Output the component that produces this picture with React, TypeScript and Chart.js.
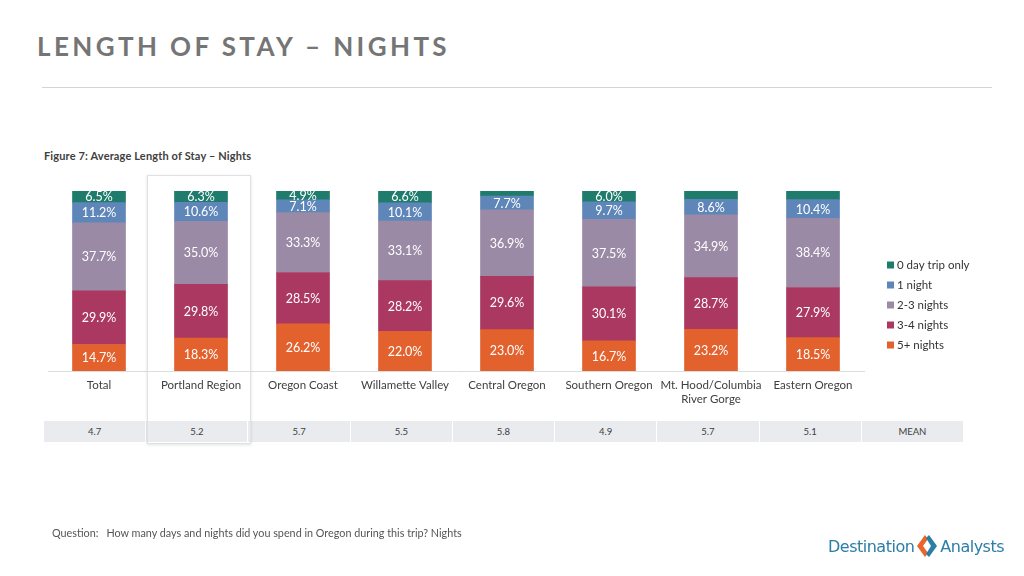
import React, { useEffect, useRef } from "react";
import { Chart, registerables } from "chart.js";

Chart.register(...registerables);

const categories: (string | string[])[] = [
  "Total",
  "Portland Region",
  "Oregon Coast",
  "Willamette Valley",
  "Central Oregon",
  "Southern Oregon",
  ["Mt. Hood/Columbia", "River Gorge"],
  "Eastern Oregon",
];

const fivePlus = [14.7, 18.3, 26.2, 22.0, 23.0, 16.7, 23.2, 18.5];
const threeFour = [29.9, 29.8, 28.5, 28.2, 29.6, 30.1, 28.7, 27.9];
const twoThree = [37.7, 35.0, 33.3, 33.1, 36.9, 37.5, 34.9, 38.4];
const oneNight = [11.2, 10.6, 7.1, 10.1, 7.7, 9.7, 8.6, 10.4];
const zeroDay = [6.5, 6.3, 4.9, 6.6, 2.8, 6.0, 4.6, 4.8];
const zeroDayLabelShown = [true, true, true, true, false, true, false, false];

const means = ["4.7", "5.2", "5.7", "5.5", "5.8", "4.9", "5.7", "5.1", "MEAN"];

const seriesNames = ["5+ nights", "3-4 nights", "2-3 nights", "1 night", "0 day trip only"];
const seriesColors = ["#e2612d", "#ab3860", "#9a8aa5", "#5f86b9", "#1f7c6c"];

const FONT = "Lato, 'Open Sans', sans-serif";

const labelPlugin = {
  id: "segLabels",
  afterDatasetsDraw(chart: any) {
    const ctx = chart.ctx;
    ctx.save();
    ctx.fillStyle = "#ffffff";
    ctx.font = `12.5px ${FONT}`;
    ctx.textAlign = "center";
    ctx.textBaseline = "middle";
    chart.data.datasets.forEach((ds: any, di: number) => {
      const meta = chart.getDatasetMeta(di);
      meta.data.forEach((el: any, i: number) => {
        if (di === 4 && !zeroDayLabelShown[i]) return;
        const v = ds.data[i];
        const y = (el.y + el.base) / 2;
        ctx.fillText(v.toFixed(1) + "%", el.x, y + 0.5);
      });
    });
    ctx.restore();
  },
};

const legendPlugin = {
  id: "sideLegend",
  afterDraw(chart: any) {
    const ctx = chart.ctx;
    ctx.save();
    ctx.font = `11.5px ${FONT}`;
    ctx.textBaseline = "middle";
    ctx.textAlign = "left";
    const ds = chart.data.datasets.slice().reverse();
    ds.forEach((d: any, i: number) => {
      const y = 265 + i * 20;
      ctx.fillStyle = d.backgroundColor;
      ctx.fillRect(887, y - 3.5, 7, 7);
      ctx.fillStyle = "#333333";
      ctx.fillText(d.label, 897, y);
    });
    ctx.restore();
  },
};

function StackChart() {
  const ref = useRef<HTMLCanvasElement | null>(null);
  useEffect(() => {
    if (!ref.current) return;
    const data = [fivePlus, threeFour, twoThree, oneNight, zeroDay];
    const chart = new Chart(ref.current, {
      type: "bar",
      data: {
        labels: categories as any,
        datasets: data.map((d, i) => ({
          label: seriesNames[i],
          data: d,
          backgroundColor: seriesColors[i],
          borderWidth: 0,
          barThickness: 53,
        })),
      },
      options: {
        responsive: false,
        animation: false,
        devicePixelRatio: 1,
        layout: { padding: { left: 48, right: 160, top: 191, bottom: 165 } },
        plugins: { legend: { display: false }, tooltip: { enabled: false } },
        scales: {
          x: {
            stacked: true,
            grid: { display: false, drawTicks: false },
            border: { display: true, color: "#dcdcdc", width: 1 },
            ticks: {
              color: "#404040",
              font: { family: FONT, size: 11.5, lineHeight: 1.25 },
              padding: 7,
              maxRotation: 0,
              autoSkip: false,
            },
            afterFit: (scale: any) => {
              scale.height = 40;
            },
          },
          y: {
            stacked: true,
            display: false,
            min: 0,
            max: 100,
          },
        },
      },
      plugins: [labelPlugin, legendPlugin],
    });
    return () => chart.destroy();
  }, []);
  return (
    <canvas
      ref={ref}
      width={1024}
      height={576}
      style={{ position: "absolute", left: 0, top: 0, width: 1024, height: 576 }}
    />
  );
}

export default function App() {
  const cellW = (964 - 44) / 9;
  return (
    <div
      style={{
        position: "absolute",
        left: 0,
        top: 0,
        width: 1024,
        height: 576,
        background: "#ffffff",
        overflow: "hidden",
        fontFamily: FONT,
      }}
    >
      <div
        style={{
          position: "absolute",
          left: 37,
          top: 29,
          fontSize: 26,
          fontWeight: 700,
          letterSpacing: 3.4,
          color: "#757575",
          whiteSpace: "nowrap",
          lineHeight: "34px",
        }}
      >
        LENGTH OF STAY – NIGHTS
      </div>
      <div
        style={{
          position: "absolute",
          left: 42,
          top: 87,
          width: 950,
          height: 1,
          background: "#d4d4d4",
        }}
      />
      <div
        style={{
          position: "absolute",
          left: 44,
          top: 149,
          fontSize: 11,
          fontWeight: 700,
          letterSpacing: 0.15,
          color: "#404040",
          whiteSpace: "nowrap",
          lineHeight: "14px",
        }}
      >
        Figure 7: Average Length of Stay – Nights
      </div>

      {/* mean row */}
      {means.map((m, i) => (
        <div
          key={i}
          style={{
            position: "absolute",
            left: 44 + i * cellW,
            top: 421,
            width: cellW - 1,
            height: 21,
            background: "#e9ebee",
            color: "#404040",
            fontSize: 9.5,
            lineHeight: "21px",
            textAlign: "center",
          }}
        >
          {m}
        </div>
      ))}

      <StackChart />

      {/* Portland highlight */}
      <div
        style={{
          position: "absolute",
          left: 147,
          top: 175,
          width: 102,
          height: 267,
          border: "1px solid #dde2e8",
          boxShadow: "0 1px 3px rgba(0,0,0,0.12)",
          pointerEvents: "none",
        }}
      />

      <div
        style={{
          position: "absolute",
          left: 52,
          top: 527,
          fontSize: 10.8,
          color: "#555555",
          whiteSpace: "nowrap",
          lineHeight: "12px",
        }}
      >
        <span>Question:</span>
        <span style={{ marginLeft: 8 }}>
          How many days and nights did you spend in Oregon during this trip? Nights
        </span>
      </div>

      <div
        style={{
          position: "absolute",
          left: 828,
          top: 534,
          height: 24,
          display: "flex",
          alignItems: "center",
          color: "#2b7ea6",
          fontSize: 16,
          fontFamily: "'DejaVu Sans', sans-serif",
          whiteSpace: "nowrap",
        }}
      >
        <span style={{ letterSpacing: -0.5 }}>Destination</span>
        <svg width="22" height="24" viewBox="0 0 22 24" style={{ margin: "0 2px" }}>
          <polygon points="9,1 1,12 9,23 12,19 7,12 12,5" fill="#e8652c" />
          <polygon points="10,4 15,12 10,20 13,23 21,12 13,1" fill="#2b7ea6" />
        </svg>
        <span style={{ letterSpacing: -0.5 }}>Analysts</span>
      </div>
    </div>
  );
}
